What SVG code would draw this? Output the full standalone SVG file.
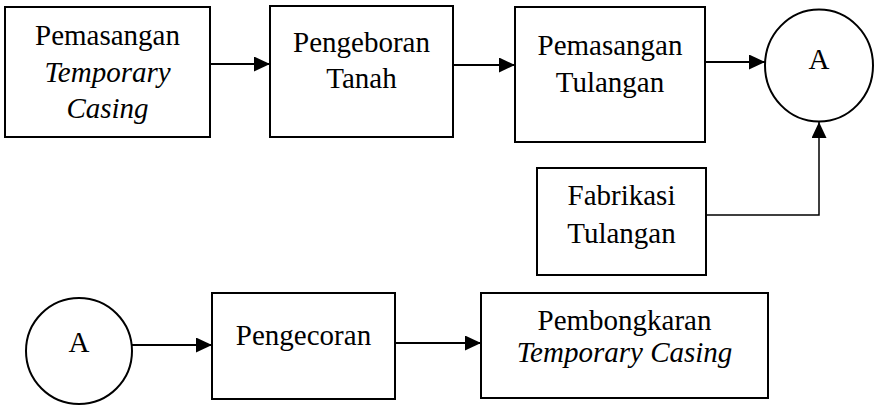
<svg xmlns="http://www.w3.org/2000/svg" width="878" height="405" viewBox="0 0 878 405">
  <defs>
    <marker id="arrow" markerUnits="userSpaceOnUse" markerWidth="17" markerHeight="16" refX="16" refY="7.5" orient="auto">
      <path d="M0,0 L16,7.5 L0,15 z" fill="#000"/>
    </marker>
    <style>
      .box { fill: #fff; stroke: #000; stroke-width: 2; }
      .lbl { font-family: 'Liberation Serif', serif; font-size: 29px; fill: #000; text-anchor: middle; }
      .it { font-style: italic; }
      .conn { fill: none; stroke: #000; stroke-width: 2; }
      .thin { stroke-width: 1.5; }
    </style>
  </defs>

  <rect width="878" height="405" fill="#fff"/>

  <!-- connectors -->
  <g id="connectors">
    <line class="conn" x1="210" y1="64" x2="270" y2="64" marker-end="url(#arrow)"/>
    <line class="conn" x1="453" y1="65" x2="515" y2="65" marker-end="url(#arrow)"/>
    <line class="conn" x1="705" y1="62" x2="765" y2="62" marker-end="url(#arrow)"/>
    <polyline class="conn thin" points="706,215 819,215 819,122" marker-end="url(#arrow)"/>
    <line class="conn" x1="132" y1="345" x2="212" y2="345" marker-end="url(#arrow)"/>
    <line class="conn" x1="395" y1="343" x2="481" y2="343" marker-end="url(#arrow)"/>
  </g>

  <!-- first row -->
  <g id="pemasangan-casing">
    <rect class="box" x="5" y="7" width="205" height="130"/>
    <text class="lbl" font-family="Liberation Serif" x="107.5" y="45">Pemasangan</text>
    <text class="lbl it" font-family="Liberation Serif" x="107.5" y="82">Temporary</text>
    <text class="lbl it" font-family="Liberation Serif" x="107.5" y="118">Casing</text>
  </g>

  <g id="pengeboran">
    <rect class="box" x="270" y="6" width="183" height="131"/>
    <text class="lbl" font-family="Liberation Serif" x="361.5" y="52">Pengeboran</text>
    <text class="lbl" font-family="Liberation Serif" x="361.5" y="88">Tanah</text>
  </g>

  <g id="pemasangan-tulangan">
    <rect class="box" x="515" y="7" width="190" height="135"/>
    <text class="lbl" font-family="Liberation Serif" x="610" y="55">Pemasangan</text>
    <text class="lbl" font-family="Liberation Serif" x="610" y="92">Tulangan</text>
  </g>

  <g id="connector-a-top">
    <ellipse class="box" cx="819" cy="65.5" rx="54" ry="56"/>
    <text class="lbl" font-family="Liberation Serif" x="819" y="69">A</text>
  </g>

  <g id="fabrikasi">
    <rect class="box" x="537" y="168" width="169" height="107"/>
    <text class="lbl" font-family="Liberation Serif" x="621.5" y="205">Fabrikasi</text>
    <text class="lbl" font-family="Liberation Serif" x="621.5" y="243">Tulangan</text>
  </g>

  <!-- second row -->
  <g id="connector-a-bottom">
    <circle class="box" cx="79" cy="351" r="53"/>
    <text class="lbl" font-family="Liberation Serif" x="79" y="352">A</text>
  </g>

  <g id="pengecoran">
    <rect class="box" x="212" y="293" width="183" height="106"/>
    <text class="lbl" font-family="Liberation Serif" x="303.5" y="345">Pengecoran</text>
  </g>

  <g id="pembongkaran">
    <rect class="box" x="481" y="293" width="287" height="105"/>
    <text class="lbl" font-family="Liberation Serif" x="624.5" y="330">Pembongkaran</text>
    <text class="lbl it" font-family="Liberation Serif" x="624.5" y="362">Temporary Casing</text>
  </g>
</svg>
